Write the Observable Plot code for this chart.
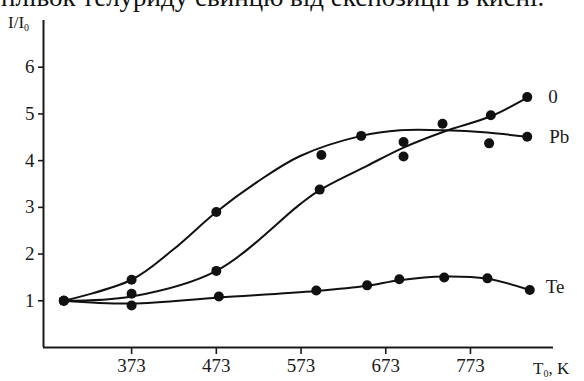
<!DOCTYPE html>
<html><head><meta charset="utf-8">
<script src="https://cdn.jsdelivr.net/npm/d3@7"></script>
<script src="https://cdn.jsdelivr.net/npm/@observablehq/plot@0.6"></script>
<style>body{margin:0;background:#fff;} svg{display:block;}</style>
</head><body><div id="chart"></div>
<script>
// Measured points
const tempPb = [293, 373, 473, 597, 644, 694, 795, 840];
const valPb  = [1.0, 1.45, 2.9, 4.12, 4.53, 4.40, 4.37, 4.51];
const temp0  = [293, 373, 473, 595, 694, 740, 797, 840];
const val0   = [1.0, 1.15, 1.64, 3.38, 4.09, 4.79, 4.97, 5.36];
const tempTe = [293, 373, 476, 591, 651, 689, 742, 793, 843];
const valTe  = [1.0, 0.9, 1.09, 1.22, 1.33, 1.46, 1.50, 1.48, 1.23];
// Smooth fitted curves (nodes)
const curvePbT = [293, 373, 421, 473, 521, 572, 644, 690, 743, 793, 840];
const curvePbV = [1.0, 1.45, 2.08, 2.9, 3.54, 4.10, 4.53, 4.65, 4.65, 4.60, 4.51];
const curve0T  = [293, 373, 473, 572, 595, 651, 694, 743, 797, 840];
const curve0V  = [1.0, 1.09, 1.64, 3.07, 3.37, 3.89, 4.28, 4.63, 4.95, 5.35];
const curveTeT = [293, 373, 476, 591, 651, 689, 742, 793, 843];
const curveTeV = [1.0, 0.94, 1.07, 1.21, 1.32, 1.44, 1.52, 1.47, 1.23];
const xTicks = [373, 473, 573, 673, 773];
const yTicks = [1, 2, 3, 4, 5, 6];
const seriesNames = ["0", "Pb", "Te"];
const titleText = "плівок телуриду свинцю від експозиції в кисні.";

const zip = (t, v, s) => t.map((d, i) => ({T: d, v: v[i], s}));
const points = [...zip(temp0, val0, "0"), ...zip(tempPb, valPb, "Pb"), ...zip(tempTe, valTe, "Te")];
const curves = [...zip(curve0T, curve0V, "0"), ...zip(curvePbT, curvePbV, "Pb"), ...zip(curveTeT, curveTeV, "Te")];
const labelData = [
  {T: temp0[temp0.length-1], v: val0[val0.length-1], s: seriesNames[0], dx: 21, dy: 0},
  {T: tempPb[tempPb.length-1], v: valPb[valPb.length-1], s: seriesNames[1], dx: 22, dy: 0},
  {T: tempTe[tempTe.length-1], v: valTe[valTe.length-1], s: seriesNames[2], dx: 16, dy: -3}
];

const font = "'Liberation Serif', 'Times New Roman', serif";
const chart = Plot.plot({
  width: 584, height: 381,
  marginLeft: 43, marginRight: 31, marginTop: 20, marginBottom: 34,
  style: {fontFamily: font, fontSize: "19px", color: "#1a1a1a", background: "#fff"},
  x: {domain: [269, 871]},
  y: {domain: [0, 7]},
  marks: [
    Plot.axisX({ticks: xTicks, tickSize: 7, tickPadding: 4, label: null, tickFormat: d => String(d), strokeWidth: 1.6}),
    Plot.axisY({ticks: yTicks, tickSize: 5, tickPadding: 4, label: null, tickFormat: d => String(d), strokeWidth: 1.6}),
    Plot.ruleY([0], {stroke: "#1a1a1a", strokeWidth: 2}),
    Plot.ruleX([269], {y1: 0, y2: 7, stroke: "#1a1a1a", strokeWidth: 2}),
    Plot.line(curves, {x: "T", y: "v", z: "s", curve: "catmull-rom", stroke: "#111", strokeWidth: 2}),
    Plot.dot(points, {x: "T", y: "v", r: 5, fill: "#111", stroke: "none"}),
    ...labelData.map(d => Plot.text([d], {x: "T", y: "v", text: "s", dx: d.dx, dy: d.dy, textAnchor: "start", fontSize: 19, fill: "#1a1a1a"}))
  ]
});
const svg = d3.select(chart);
svg.append("text").attr("x", 1).attr("y", 6).attr("text-anchor", "start").attr("font-family", font).attr("font-size", 27).attr("fill", "#111").text(titleText);
const yl = svg.append("text").attr("x", 8).attr("y", 28).attr("text-anchor", "start").attr("font-family", font).attr("font-size", 17).attr("fill", "#1a1a1a");
yl.append("tspan").text("I/I");
yl.append("tspan").attr("font-size", 10).attr("dy", 3).text("0");
const xl = svg.append("text").attr("x", 533).attr("y", 374).attr("text-anchor", "start").attr("font-family", font).attr("font-size", 17).attr("fill", "#1a1a1a");
xl.append("tspan").text("T");
xl.append("tspan").attr("font-size", 10).attr("dy", 3).text("0");
xl.append("tspan").attr("dy", -3).text(", K");
document.getElementById("chart").appendChild(chart);
</script>
</body></html>
